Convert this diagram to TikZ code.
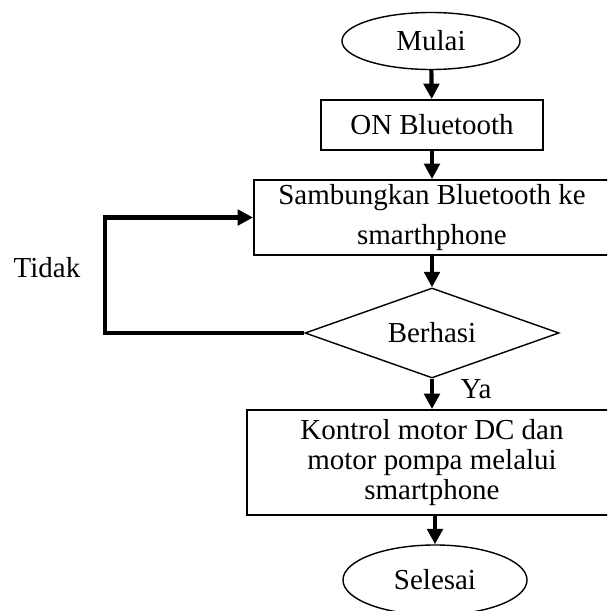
\documentclass[tikz,border=0pt]{standalone}
\usepackage{fontspec}
\setmainfont{Liberation Serif}
\usetikzlibrary{shapes.geometric, arrows.meta}

\begin{document}

\begin{tikzpicture}[x = 0.025cm, y = -0.025cm,
	> = {Triangle[width = 11pt, length = 11pt]},
	every node/.style = {font = \fontsize{20.6}{21.3}\selectfont, inner sep = 0pt},
	terminal/.style = {draw, ellipse, line width = 1pt},
	proses/.style = {draw, rectangle, line width = 1.3pt, align = center},
	keputusan/.style = {draw, diamond, aspect = 2.8, line width = 1pt},
	alur/.style = {->, line width = 3pt}]

	% Frame
	
	\useasboundingbox (0, 0) rectangle (607, 611);
	\clip (0, 0) rectangle (607, 611);

	% Start and first step
	
	\node [terminal, minimum width = 4.45cm, minimum height = 1.425cm] (mulai) at (431, 41) {Mulai};
	\node [proses, minimum width = 5.55cm, minimum height = 1.25cm] (onbt) at (432, 125) {ON Bluetooth};
	
	% Connect and check
	
	\node [proses, minimum width = 8.9cm, minimum height = 1.875cm] (sambung) at (432, 217.5) {Sambungkan Bluetooth ke\\[6.5pt]smarthphone};
	\node [keputusan, minimum width = 6.35cm, minimum height = 2.25cm] (cek) at (432, 333) {Berhasi};
	
	% Control and end
	
	\node [proses, minimum width = 9.25cm, minimum height = 2.625cm] (kontrol) at (432, 462.5) {Kontrol motor DC dan\\motor pompa melalui\\smartphone};
	\node [terminal, minimum width = 4.6cm, minimum height = 1.75cm] (selesai) at (435, 580) {Selesai};
	
	% Arrows
	
	\draw [alur] (mulai) -- (onbt);
	\draw [alur] (onbt) -- (sambung);
	\draw [alur] (sambung) -- (cek);
	\draw [alur] (cek) -- (kontrol);
	\draw [alur] (kontrol.south -| selesai) -- (selesai);
	
	% Loop back
	
	\coordinate (pojok) at (105, 333);
	\draw [alur] (cek.west) -- (pojok) |- (sambung.west);
	
	% Labels
	
	\node (tidak) at (47, 268) {Tidak};
	\node (ya) at (476, 389) {Ya};

\end{tikzpicture}

\end{document}
